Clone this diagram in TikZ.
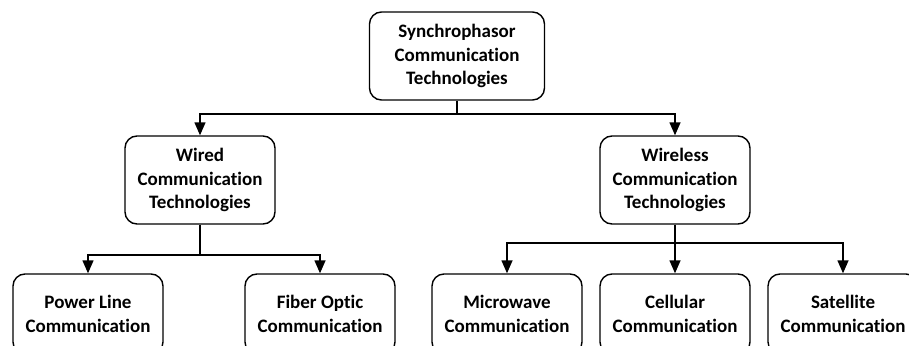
\documentclass[tikz,border=0pt]{standalone}
\usepackage{fontspec}
\setmainfont{Carlito}[Ligatures=NoCommon]
\usetikzlibrary{arrows.meta}
\tikzset{
 box/.style={draw, line width=1.4pt, rounded corners=12pt, minimum width=150pt,
   minimum height=88pt, align=center, inner sep=0pt,
   font=\bfseries\fontsize{19}{23.5}\selectfont},
 leaf/.style={box, minimum height=80pt},
 arr/.style={line width=1.4pt, -{Triangle[length=13pt,width=11pt]}}
}
\begin{document}
\begin{tikzpicture}[x=1pt,y=-1pt]
\useasboundingbox (0,0) rectangle (909,345);
\clip (0,0) rectangle (909,345);

\node[box, minimum width=175pt] (sync) at (457,56) {Synchrophasor\\Communication\\Technologies};
\node[box] (wired) at (200,180) {Wired\\Communication\\Technologies};
\node[box] (wless) at (675,180) {Wireless\\Communication\\Technologies};

\node[leaf] (power) at (88,314) {Power Line\\Communication};
\node[leaf] (fiber) at (320,314) {Fiber Optic\\Communication};
\node[leaf] (micro) at (507,314) {Microwave\\Communication};
\node[leaf] (cell) at (675,314) {Cellular\\Communication};
\node[leaf] (sat) at (843,314) {Satellite\\Communication};

% top level
\coordinate (j0) at (457,114);
\draw[line width=1.4pt] (sync.south) -- (j0);
\foreach \t in {wired,wless}
 \draw[arr] (j0) -| (\t.north);

% wired branch
\coordinate (j1) at (200,255);
\draw[line width=1.4pt] (wired.south) -- (j1);
\foreach \t in {power,fiber}
 \draw[arr] (j1) -| (\t.north);

% wireless branch
\coordinate (j2) at (675,243);
\draw[line width=1.4pt] (wless.south) -- (j2);
\foreach \t in {micro,cell,sat}
 \draw[arr] (j2) -| (\t.north);

\end{tikzpicture}
\end{document}
